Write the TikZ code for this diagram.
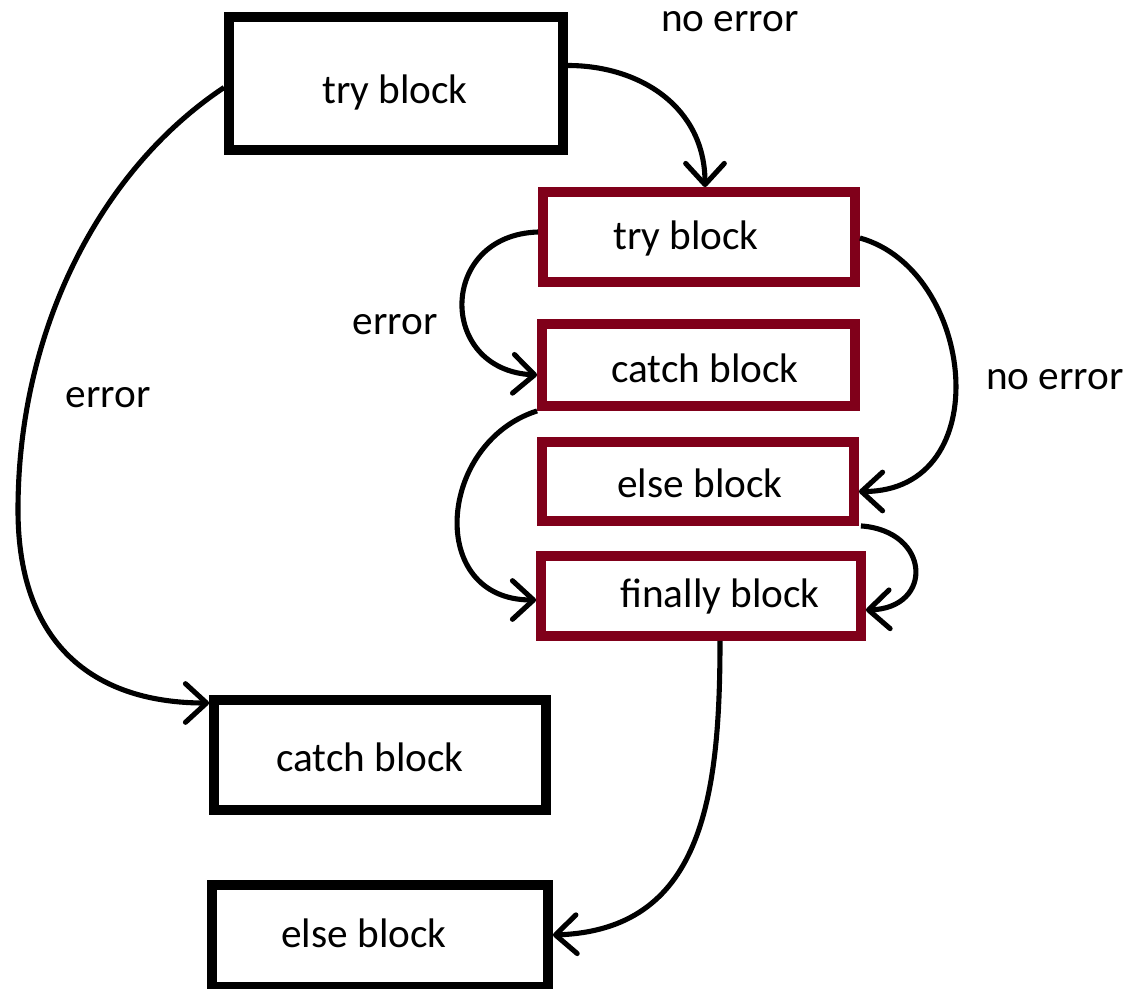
\documentclass[tikz,border=0pt]{standalone}
\usepackage{fontspec}
\setmainfont{Carlito}
\usetikzlibrary{arrows.meta}
\definecolor{blockred}{RGB}{128,0,26}
\begin{document}
\begin{tikzpicture}[x=0.02cm,y=-0.02cm,
  outerbox/.style={draw=black,line width=5.6pt,inner sep=0pt},
  innerbox/.style={draw=blockred,line width=5.6pt,inner sep=0pt},
  txt/.style={font=\fontsize{23.5}{28}\selectfont,inner sep=0pt},
  flow/.style={line width=2.9pt,-{Straight Barb[length=12pt,width=22pt,round]}}]
\useasboundingbox (0,0) rectangle (1132,989);

% outer try / catch / else
\node[outerbox,minimum width=334*0.02cm,minimum height=133*0.02cm] (otry) at (396,83.5) {};
\node[outerbox,minimum width=332*0.02cm,minimum height=110*0.02cm] (ocatch) at (380,755) {};
\node[outerbox,minimum width=336*0.02cm,minimum height=102*0.02cm] (oelse) at (380,936) {};

% nested try / catch / else / finally
\node[innerbox,minimum width=312*0.02cm,minimum height=90*0.02cm] (itry) at (699,237) {};
\node[innerbox,minimum width=313*0.02cm,minimum height=82*0.02cm] (icatch) at (698.5,365) {};
\node[innerbox,minimum width=312*0.02cm,minimum height=79*0.02cm] (ielse) at (698,481.5) {};
\node[innerbox,minimum width=320*0.02cm,minimum height=80*0.02cm] (ifinally) at (701,596) {};

% block texts
\node[txt] (totry) at (395,92) {try block};
\node[txt] (tocatch) at (370,757) {catch block};
\node[txt] (toelse) at (364,933) {else block};
\node[txt] (titry) at (686,238) {try block};
\node[txt] (ticatch) at (705,368) {catch block};
\node[txt] (tielse) at (700,483) {else block};
\node[txt] (tifinally) at (720,596) {finally block};

% edge labels
\node[txt] (l1) at (730,22) {no error};
\node[txt] (l2) at (395,325) {error};
\node[txt] (l3) at (1055,380) {no error};
\node[txt] (l4) at (108,398) {error};

% connectors
\draw[flow] ([yshift=18*0.02cm]otry.east) .. controls +(72,0) and +(0,-80) .. (itry.north -| 705,0);
\draw[flow] ([yshift=-4*0.02cm]otry.west) .. controls (100,170) and (18,330) .. (18,510)
            .. controls (18,650) and (100,703) .. ([yshift=52*0.02cm]ocatch.west);
\draw[flow] ([yshift=5*0.02cm]itry.west) .. controls +(-100,3) and +(-100,-5) .. ([yshift=-10*0.02cm]icatch.west);
\draw[flow] ([yshift=-1*0.02cm]itry.east) .. controls +(115,32) and +(140,0) .. ([yshift=-10*0.02cm]ielse.east);
\draw[flow] (icatch.south west) .. controls +(-100,32) and +(-110,0) .. ([yshift=-4*0.02cm]ifinally.west);
\draw[flow] ([xshift=2*0.02cm]ielse.south east) .. controls +(70,5) and +(68,-2) .. ([yshift=-14*0.02cm]ifinally.east);
\draw[flow] (ifinally.south -| 720,0) .. controls +(0,160) and +(148,-5) .. ([yshift=1*0.02cm]oelse.east);
\end{tikzpicture}
\end{document}
